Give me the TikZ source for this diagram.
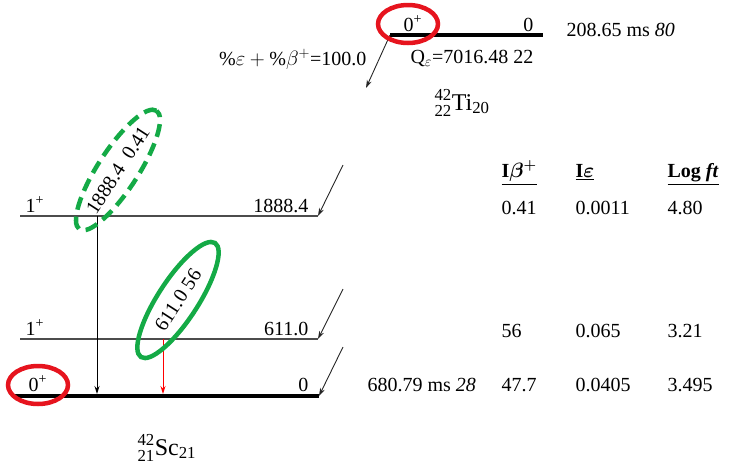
\documentclass[tikz,border=0pt]{standalone}
\usepackage{fontspec}
\usepackage{amsmath,bm}
\setmainfont{Liberation Serif}
\usetikzlibrary{shapes.geometric,arrows.meta}
\definecolor{ringred}{RGB}{230,20,30}
\definecolor{ringgreen}{RGB}{20,170,70}
\tikzset{
  level/.style={draw=black!70,line width=1.3pt},
  gslevel/.style={draw=black,line width=4pt},
  feed/.style={->,draw=black!85,line width=0.9pt},
  gam/.style={->,line width=0.9pt},
  ring/.style={draw=ringred,line width=4.5pt,ellipse,minimum width=60pt,minimum height=38pt},
  gring/.style={draw=ringgreen,line width=4.5pt,ellipse,minimum width=136pt,minimum height=40pt,inner sep=0pt}
}
\newcommand{\nucl}[4]{{\fontsize{24}{26}\selectfont${}^{\text{#2}}_{\text{#3}}$#1${}_{\text{#4}}$}}
\begin{document}
\begin{tikzpicture}[x=1pt,y=-1pt,font=\fontsize{20}{23}\selectfont,>={Stealth[length=8pt,width=5pt]}]
  \useasboundingbox (0,0) rectangle (732,472);
  % parent 42Ti
  \coordinate (ti0L) at (390,35);
  \coordinate (ti0R) at (543,35);
  \draw[gslevel] (ti0L) -- (ti0R);
  \node[anchor=base west] (tiJ) at (400,31) {0\textsuperscript{+}};
  \node[anchor=base east] (tiE) at (537,31) {0};
  \node[anchor=base west] (tiT) at (563,36) {208.65 ms \textit{80}};
  \node[anchor=base west] (tiQ) at (407,63) {Q\textsubscript{$\varepsilon$}=7016.48 22};
  \node[anchor=base east] (tiB) at (370,65) {$\%\varepsilon+\%\beta^{+}$=100.0};
  \node[anchor=base west] (tiN) at (431,110) {\nucl{Ti}{42}{22}{20}};
  \coordinate (tiArr) at (366,88);
  \draw[feed] (ti0L) -- (tiArr);
  \node[ring] (tiRing) at (408,24) {};
  % daughter 42Sc levels
  \coordinate (l2L) at (20,216);
  \coordinate (l2R) at (318,216);
  \coordinate (l1L) at (20,339);
  \coordinate (l1R) at (318,339);
  \coordinate (l0L) at (15,396);
  \coordinate (l0R) at (319,396);
  \draw[level] (l2L) -- (l2R);
  \draw[level] (l1L) -- (l1R);
  \draw[gslevel] (l0L) -- (l0R);
  \node[anchor=base west] (l2J) at (22,212) {1\textsuperscript{+}};
  \node[anchor=base east] (l2E) at (312,212) {1888.4};
  \node[anchor=base west] (l1J) at (22,335) {1\textsuperscript{+}};
  \node[anchor=base east] (l1E) at (312,335) {611.0};
  \node[anchor=base west] (l0J) at (25,391) {0\textsuperscript{+}};
  \node[anchor=base east] (l0E) at (312,391) {0};
  \node[anchor=base west] (l0T) at (364,391) {680.79 ms \textit{28}};
  \node[anchor=base west] (scN) at (134,455) {\nucl{Sc}{42}{21}{21}};
  \node[ring] (scRing) at (38,385) {};
  % feeding arrows
  \coordinate (f2) at (343,165);
  \coordinate (f1) at (343,289);
  \coordinate (f0) at (343,347);
  \draw[feed] (f2) -- (l2R);
  \draw[feed] (f1) -- (l1R);
  \draw[feed] (f0) -- (l0R);
  % gammas
  \draw[gam] (97,216) -- (97,394);
  \draw[gam,red] (163,339) -- (163,394);
  \node[gring,dashed,dash pattern=on 13pt off 7pt,rotate=57] (g1888) at (118,170) {1888.4\ \ 0.41};
  \node[gring,rotate=57] (g611) at (178,300) {611.0\ 56};
  % table
  \node[anchor=base west,font=\fontsize{20}{23}\selectfont\bfseries\boldmath] (hB) at (498,177) {\underline{I$\beta^{+}$}};
  \node[anchor=base west,font=\fontsize{20}{23}\selectfont\bfseries\boldmath] (hE) at (572,177) {\underline{I$\varepsilon$}};
  \node[anchor=base west,font=\fontsize{20}{23}\selectfont\bfseries] (hF) at (664,177) {\underline{Log \textit{ft}}};
  \node[anchor=base west] (b2) at (498,214) {0.41};
  \node[anchor=base west] (e2) at (572,214) {0.0011};
  \node[anchor=base west] (f2t) at (664,214) {4.80};
  \node[anchor=base west] (b1) at (498,337) {56};
  \node[anchor=base west] (e1) at (572,337) {0.065};
  \node[anchor=base west] (f1t) at (664,337) {3.21};
  \node[anchor=base west] (b0) at (498,391) {47.7};
  \node[anchor=base west] (e0) at (572,391) {0.0405};
  \node[anchor=base west] (f0t) at (664,391) {3.495};
\end{tikzpicture}
\end{document}
